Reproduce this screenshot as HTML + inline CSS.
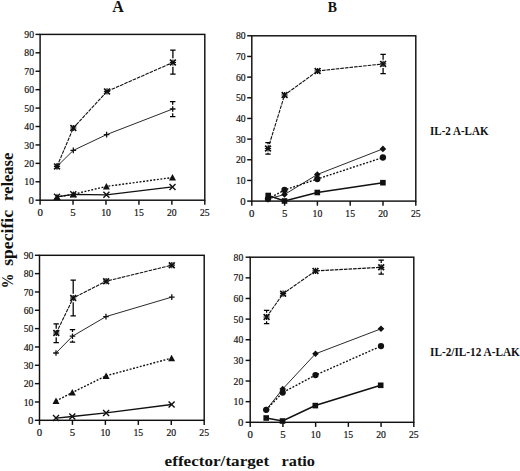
<!DOCTYPE html>
<html><head><meta charset="utf-8">
<style>
html,body{margin:0;padding:0;background:#fff;}
body{width:520px;height:471px;overflow:hidden;position:relative;}
svg{position:absolute;left:0;top:0;}
.tl{font-family:"Liberation Serif",serif;font-size:10.8px;fill:#111;stroke:#111;stroke-width:0.2px;}
.hd{font-family:"Liberation Serif",serif;font-weight:bold;fill:#111;}
</style></head><body>
<svg width="520" height="471" viewBox="0 0 520 471">
<text x="118" y="12" text-anchor="middle" class="hd" font-size="16">A</text>
<text x="332.3" y="12.1" text-anchor="middle" class="hd" font-size="13.8">B</text>
<text x="430" y="135.3" class="hd" font-size="11.6" textLength="58.5" lengthAdjust="spacingAndGlyphs">IL-2 A-LAK</text>
<text x="430" y="355.9" class="hd" font-size="11.6" textLength="89.8" lengthAdjust="spacingAndGlyphs">IL-2/IL-12 A-LAK</text>
<text x="164.6" y="465.6" class="hd" font-size="15.5" textLength="104.5" lengthAdjust="spacingAndGlyphs">effector/target</text>
<text x="281.5" y="465.6" class="hd" font-size="15.5" textLength="33.5" lengthAdjust="spacingAndGlyphs">ratio</text>
<g transform="translate(12.7,0) rotate(-90)">
<text x="-288.2" y="0" class="hd" font-size="17" textLength="14.6" lengthAdjust="spacingAndGlyphs">%</text>
<text x="-265.8" y="0" class="hd" font-size="16" textLength="55.8" lengthAdjust="spacingAndGlyphs">specific</text>
<text x="-201" y="0" class="hd" font-size="16" textLength="48.4" lengthAdjust="spacingAndGlyphs">release</text>
</g>
<rect x="40.1" y="34.4" width="164.7" height="165.8" fill="none" stroke="#111" stroke-width="1.45"/>
<line x1="35.5" y1="200.2" x2="40.1" y2="200.2" stroke="#111" stroke-width="1.45"/>
<text x="34" y="203.8" text-anchor="end" class="tl">0</text>
<line x1="35.5" y1="181.78" x2="40.1" y2="181.78" stroke="#111" stroke-width="1.45"/>
<text x="34" y="185.38" text-anchor="end" class="tl" textLength="9.7" lengthAdjust="spacingAndGlyphs">10</text>
<line x1="35.5" y1="163.36" x2="40.1" y2="163.36" stroke="#111" stroke-width="1.45"/>
<text x="34" y="166.96" text-anchor="end" class="tl" textLength="9.7" lengthAdjust="spacingAndGlyphs">20</text>
<line x1="35.5" y1="144.93" x2="40.1" y2="144.93" stroke="#111" stroke-width="1.45"/>
<text x="34" y="148.53" text-anchor="end" class="tl" textLength="9.7" lengthAdjust="spacingAndGlyphs">30</text>
<line x1="35.5" y1="126.51" x2="40.1" y2="126.51" stroke="#111" stroke-width="1.45"/>
<text x="34" y="130.11" text-anchor="end" class="tl" textLength="9.7" lengthAdjust="spacingAndGlyphs">40</text>
<line x1="35.5" y1="108.09" x2="40.1" y2="108.09" stroke="#111" stroke-width="1.45"/>
<text x="34" y="111.69" text-anchor="end" class="tl" textLength="9.7" lengthAdjust="spacingAndGlyphs">50</text>
<line x1="35.5" y1="89.67" x2="40.1" y2="89.67" stroke="#111" stroke-width="1.45"/>
<text x="34" y="93.27" text-anchor="end" class="tl" textLength="9.7" lengthAdjust="spacingAndGlyphs">60</text>
<line x1="35.5" y1="71.24" x2="40.1" y2="71.24" stroke="#111" stroke-width="1.45"/>
<text x="34" y="74.84" text-anchor="end" class="tl" textLength="9.7" lengthAdjust="spacingAndGlyphs">70</text>
<line x1="35.5" y1="52.82" x2="40.1" y2="52.82" stroke="#111" stroke-width="1.45"/>
<text x="34" y="56.42" text-anchor="end" class="tl" textLength="9.7" lengthAdjust="spacingAndGlyphs">80</text>
<line x1="35.5" y1="34.4" x2="40.1" y2="34.4" stroke="#111" stroke-width="1.45"/>
<text x="34" y="38" text-anchor="end" class="tl" textLength="9.7" lengthAdjust="spacingAndGlyphs">90</text>
<line x1="40.1" y1="200.2" x2="40.1" y2="204.8" stroke="#111" stroke-width="1.45"/>
<text x="40.1" y="216" text-anchor="middle" class="tl">0</text>
<line x1="73.04" y1="200.2" x2="73.04" y2="204.8" stroke="#111" stroke-width="1.45"/>
<text x="73.04" y="216" text-anchor="middle" class="tl">5</text>
<line x1="105.98" y1="200.2" x2="105.98" y2="204.8" stroke="#111" stroke-width="1.45"/>
<text x="105.98" y="216" text-anchor="middle" class="tl" textLength="9.7" lengthAdjust="spacingAndGlyphs">10</text>
<line x1="138.92" y1="200.2" x2="138.92" y2="204.8" stroke="#111" stroke-width="1.45"/>
<text x="138.92" y="216" text-anchor="middle" class="tl" textLength="9.7" lengthAdjust="spacingAndGlyphs">15</text>
<line x1="171.86" y1="200.2" x2="171.86" y2="204.8" stroke="#111" stroke-width="1.45"/>
<text x="171.86" y="216" text-anchor="middle" class="tl" textLength="9.7" lengthAdjust="spacingAndGlyphs">20</text>
<line x1="204.8" y1="200.2" x2="204.8" y2="204.8" stroke="#111" stroke-width="1.45"/>
<text x="204.8" y="216" text-anchor="middle" class="tl" textLength="9.7" lengthAdjust="spacingAndGlyphs">25</text>
<rect x="251.8" y="35.8" width="164" height="165.3" fill="none" stroke="#111" stroke-width="1.45"/>
<line x1="247.2" y1="201.1" x2="251.8" y2="201.1" stroke="#111" stroke-width="1.45"/>
<text x="245.7" y="204.7" text-anchor="end" class="tl">0</text>
<line x1="247.2" y1="180.44" x2="251.8" y2="180.44" stroke="#111" stroke-width="1.45"/>
<text x="245.7" y="184.04" text-anchor="end" class="tl" textLength="9.7" lengthAdjust="spacingAndGlyphs">10</text>
<line x1="247.2" y1="159.77" x2="251.8" y2="159.77" stroke="#111" stroke-width="1.45"/>
<text x="245.7" y="163.37" text-anchor="end" class="tl" textLength="9.7" lengthAdjust="spacingAndGlyphs">20</text>
<line x1="247.2" y1="139.11" x2="251.8" y2="139.11" stroke="#111" stroke-width="1.45"/>
<text x="245.7" y="142.71" text-anchor="end" class="tl" textLength="9.7" lengthAdjust="spacingAndGlyphs">30</text>
<line x1="247.2" y1="118.45" x2="251.8" y2="118.45" stroke="#111" stroke-width="1.45"/>
<text x="245.7" y="122.05" text-anchor="end" class="tl" textLength="9.7" lengthAdjust="spacingAndGlyphs">40</text>
<line x1="247.2" y1="97.79" x2="251.8" y2="97.79" stroke="#111" stroke-width="1.45"/>
<text x="245.7" y="101.39" text-anchor="end" class="tl" textLength="9.7" lengthAdjust="spacingAndGlyphs">50</text>
<line x1="247.2" y1="77.12" x2="251.8" y2="77.12" stroke="#111" stroke-width="1.45"/>
<text x="245.7" y="80.72" text-anchor="end" class="tl" textLength="9.7" lengthAdjust="spacingAndGlyphs">60</text>
<line x1="247.2" y1="56.46" x2="251.8" y2="56.46" stroke="#111" stroke-width="1.45"/>
<text x="245.7" y="60.06" text-anchor="end" class="tl" textLength="9.7" lengthAdjust="spacingAndGlyphs">70</text>
<line x1="247.2" y1="35.8" x2="251.8" y2="35.8" stroke="#111" stroke-width="1.45"/>
<text x="245.7" y="39.4" text-anchor="end" class="tl" textLength="9.7" lengthAdjust="spacingAndGlyphs">80</text>
<line x1="251.8" y1="201.1" x2="251.8" y2="205.7" stroke="#111" stroke-width="1.45"/>
<text x="251.8" y="216.9" text-anchor="middle" class="tl">0</text>
<line x1="284.6" y1="201.1" x2="284.6" y2="205.7" stroke="#111" stroke-width="1.45"/>
<text x="284.6" y="216.9" text-anchor="middle" class="tl">5</text>
<line x1="317.4" y1="201.1" x2="317.4" y2="205.7" stroke="#111" stroke-width="1.45"/>
<text x="317.4" y="216.9" text-anchor="middle" class="tl" textLength="9.7" lengthAdjust="spacingAndGlyphs">10</text>
<line x1="350.2" y1="201.1" x2="350.2" y2="205.7" stroke="#111" stroke-width="1.45"/>
<text x="350.2" y="216.9" text-anchor="middle" class="tl" textLength="9.7" lengthAdjust="spacingAndGlyphs">15</text>
<line x1="383" y1="201.1" x2="383" y2="205.7" stroke="#111" stroke-width="1.45"/>
<text x="383" y="216.9" text-anchor="middle" class="tl" textLength="9.7" lengthAdjust="spacingAndGlyphs">20</text>
<line x1="415.8" y1="201.1" x2="415.8" y2="205.7" stroke="#111" stroke-width="1.45"/>
<text x="415.8" y="216.9" text-anchor="middle" class="tl" textLength="9.7" lengthAdjust="spacingAndGlyphs">25</text>
<rect x="39.5" y="255.3" width="164.7" height="165" fill="none" stroke="#111" stroke-width="1.45"/>
<line x1="34.9" y1="420.3" x2="39.5" y2="420.3" stroke="#111" stroke-width="1.45"/>
<text x="33.4" y="423.9" text-anchor="end" class="tl">0</text>
<line x1="34.9" y1="401.97" x2="39.5" y2="401.97" stroke="#111" stroke-width="1.45"/>
<text x="33.4" y="405.57" text-anchor="end" class="tl" textLength="9.7" lengthAdjust="spacingAndGlyphs">10</text>
<line x1="34.9" y1="383.63" x2="39.5" y2="383.63" stroke="#111" stroke-width="1.45"/>
<text x="33.4" y="387.23" text-anchor="end" class="tl" textLength="9.7" lengthAdjust="spacingAndGlyphs">20</text>
<line x1="34.9" y1="365.3" x2="39.5" y2="365.3" stroke="#111" stroke-width="1.45"/>
<text x="33.4" y="368.9" text-anchor="end" class="tl" textLength="9.7" lengthAdjust="spacingAndGlyphs">30</text>
<line x1="34.9" y1="346.97" x2="39.5" y2="346.97" stroke="#111" stroke-width="1.45"/>
<text x="33.4" y="350.57" text-anchor="end" class="tl" textLength="9.7" lengthAdjust="spacingAndGlyphs">40</text>
<line x1="34.9" y1="328.63" x2="39.5" y2="328.63" stroke="#111" stroke-width="1.45"/>
<text x="33.4" y="332.23" text-anchor="end" class="tl" textLength="9.7" lengthAdjust="spacingAndGlyphs">50</text>
<line x1="34.9" y1="310.3" x2="39.5" y2="310.3" stroke="#111" stroke-width="1.45"/>
<text x="33.4" y="313.9" text-anchor="end" class="tl" textLength="9.7" lengthAdjust="spacingAndGlyphs">60</text>
<line x1="34.9" y1="291.97" x2="39.5" y2="291.97" stroke="#111" stroke-width="1.45"/>
<text x="33.4" y="295.57" text-anchor="end" class="tl" textLength="9.7" lengthAdjust="spacingAndGlyphs">70</text>
<line x1="34.9" y1="273.63" x2="39.5" y2="273.63" stroke="#111" stroke-width="1.45"/>
<text x="33.4" y="277.23" text-anchor="end" class="tl" textLength="9.7" lengthAdjust="spacingAndGlyphs">80</text>
<line x1="34.9" y1="255.3" x2="39.5" y2="255.3" stroke="#111" stroke-width="1.45"/>
<text x="33.4" y="258.9" text-anchor="end" class="tl" textLength="9.7" lengthAdjust="spacingAndGlyphs">90</text>
<line x1="39.5" y1="420.3" x2="39.5" y2="424.9" stroke="#111" stroke-width="1.45"/>
<text x="39.5" y="436.1" text-anchor="middle" class="tl">0</text>
<line x1="72.44" y1="420.3" x2="72.44" y2="424.9" stroke="#111" stroke-width="1.45"/>
<text x="72.44" y="436.1" text-anchor="middle" class="tl">5</text>
<line x1="105.38" y1="420.3" x2="105.38" y2="424.9" stroke="#111" stroke-width="1.45"/>
<text x="105.38" y="436.1" text-anchor="middle" class="tl" textLength="9.7" lengthAdjust="spacingAndGlyphs">10</text>
<line x1="138.32" y1="420.3" x2="138.32" y2="424.9" stroke="#111" stroke-width="1.45"/>
<text x="138.32" y="436.1" text-anchor="middle" class="tl" textLength="9.7" lengthAdjust="spacingAndGlyphs">15</text>
<line x1="171.26" y1="420.3" x2="171.26" y2="424.9" stroke="#111" stroke-width="1.45"/>
<text x="171.26" y="436.1" text-anchor="middle" class="tl" textLength="9.7" lengthAdjust="spacingAndGlyphs">20</text>
<line x1="204.2" y1="420.3" x2="204.2" y2="424.9" stroke="#111" stroke-width="1.45"/>
<text x="204.2" y="436.1" text-anchor="middle" class="tl" textLength="9.7" lengthAdjust="spacingAndGlyphs">25</text>
<rect x="250.2" y="257.2" width="163.6" height="165.1" fill="none" stroke="#111" stroke-width="1.45"/>
<line x1="245.6" y1="422.3" x2="250.2" y2="422.3" stroke="#111" stroke-width="1.45"/>
<text x="243.3" y="425.9" text-anchor="end" class="tl">0</text>
<line x1="245.6" y1="401.66" x2="250.2" y2="401.66" stroke="#111" stroke-width="1.45"/>
<text x="243.3" y="405.26" text-anchor="end" class="tl" textLength="9.7" lengthAdjust="spacingAndGlyphs">10</text>
<line x1="245.6" y1="381.02" x2="250.2" y2="381.02" stroke="#111" stroke-width="1.45"/>
<text x="243.3" y="384.62" text-anchor="end" class="tl" textLength="9.7" lengthAdjust="spacingAndGlyphs">20</text>
<line x1="245.6" y1="360.39" x2="250.2" y2="360.39" stroke="#111" stroke-width="1.45"/>
<text x="243.3" y="363.99" text-anchor="end" class="tl" textLength="9.7" lengthAdjust="spacingAndGlyphs">30</text>
<line x1="245.6" y1="339.75" x2="250.2" y2="339.75" stroke="#111" stroke-width="1.45"/>
<text x="243.3" y="343.35" text-anchor="end" class="tl" textLength="9.7" lengthAdjust="spacingAndGlyphs">40</text>
<line x1="245.6" y1="319.11" x2="250.2" y2="319.11" stroke="#111" stroke-width="1.45"/>
<text x="243.3" y="322.71" text-anchor="end" class="tl" textLength="9.7" lengthAdjust="spacingAndGlyphs">50</text>
<line x1="245.6" y1="298.48" x2="250.2" y2="298.48" stroke="#111" stroke-width="1.45"/>
<text x="243.3" y="302.08" text-anchor="end" class="tl" textLength="9.7" lengthAdjust="spacingAndGlyphs">60</text>
<line x1="245.6" y1="277.84" x2="250.2" y2="277.84" stroke="#111" stroke-width="1.45"/>
<text x="243.3" y="281.44" text-anchor="end" class="tl" textLength="9.7" lengthAdjust="spacingAndGlyphs">70</text>
<line x1="245.6" y1="257.2" x2="250.2" y2="257.2" stroke="#111" stroke-width="1.45"/>
<text x="243.3" y="260.8" text-anchor="end" class="tl" textLength="9.7" lengthAdjust="spacingAndGlyphs">80</text>
<line x1="250.2" y1="422.3" x2="250.2" y2="426.9" stroke="#111" stroke-width="1.45"/>
<text x="250.2" y="438.1" text-anchor="middle" class="tl">0</text>
<line x1="282.92" y1="422.3" x2="282.92" y2="426.9" stroke="#111" stroke-width="1.45"/>
<text x="282.92" y="438.1" text-anchor="middle" class="tl">5</text>
<line x1="315.64" y1="422.3" x2="315.64" y2="426.9" stroke="#111" stroke-width="1.45"/>
<text x="315.64" y="438.1" text-anchor="middle" class="tl" textLength="9.7" lengthAdjust="spacingAndGlyphs">10</text>
<line x1="348.36" y1="422.3" x2="348.36" y2="426.9" stroke="#111" stroke-width="1.45"/>
<text x="348.36" y="438.1" text-anchor="middle" class="tl" textLength="9.7" lengthAdjust="spacingAndGlyphs">15</text>
<line x1="381.08" y1="422.3" x2="381.08" y2="426.9" stroke="#111" stroke-width="1.45"/>
<text x="381.08" y="438.1" text-anchor="middle" class="tl" textLength="9.7" lengthAdjust="spacingAndGlyphs">20</text>
<line x1="413.8" y1="422.3" x2="413.8" y2="426.9" stroke="#111" stroke-width="1.45"/>
<text x="413.8" y="438.1" text-anchor="middle" class="tl" textLength="9.7" lengthAdjust="spacingAndGlyphs">25</text>
<path d="M172.9 50.2V58.3M172.9 66.7V74.2M170.2 50.2H175.6M170.2 74.2H175.6" stroke="#000" stroke-width="1.25" fill="none"/>
<path d="M172.7 101.5V104.8M172.7 113.2V116.5M170 101.5H175.4M170 116.5H175.4" stroke="#000" stroke-width="1.25" fill="none"/>
<path d="M57 166.4 L73.3 128 L107 91.4 L172.9 62.5" fill="none" stroke="#111" stroke-width="1.1" stroke-dasharray="3.6 1"/>
<path d="M57 166.4 L73.3 150.4 L106.6 134.6 L172.7 109" fill="none" stroke="#2a2a2a" stroke-width="1.0"/>
<path d="M57 196.8 L73.3 194.3 L106.4 186.4 L172.5 177.5" fill="none" stroke="#111" stroke-width="1.4" stroke-dasharray="1.9 1.6"/>
<path d="M57 196.8 L73.3 194.3 L106.4 194.8 L172.5 186.9" fill="none" stroke="#111" stroke-width="1.3"/>
<path d="M54.1 163.5L59.9 169.3M54.1 169.3L59.9 163.5" stroke="#111" stroke-width="1.7" fill="none"/><path d="M53.9 166.4H60.1M57 163.3V169.5" stroke="#111" stroke-width="1.2" fill="none"/>
<path d="M70.4 125.1L76.2 130.9M70.4 130.9L76.2 125.1" stroke="#111" stroke-width="1.7" fill="none"/><path d="M70.2 128H76.4M73.3 124.9V131.1" stroke="#111" stroke-width="1.2" fill="none"/>
<path d="M104.1 88.5L109.9 94.3M104.1 94.3L109.9 88.5" stroke="#111" stroke-width="1.7" fill="none"/><path d="M103.9 91.4H110.1M107 88.3V94.5" stroke="#111" stroke-width="1.2" fill="none"/>
<path d="M170 59.6L175.8 65.4M170 65.4L175.8 59.6" stroke="#111" stroke-width="1.7" fill="none"/><path d="M169.8 62.5H176M172.9 59.4V65.6" stroke="#111" stroke-width="1.2" fill="none"/>
<path d="M54.2 166.4H59.8M57 163.6V169.2" stroke="#111" stroke-width="1.3" fill="none"/>
<path d="M70.5 150.4H76.1M73.3 147.6V153.2" stroke="#111" stroke-width="1.3" fill="none"/>
<path d="M103.8 134.6H109.4M106.6 131.8V137.4" stroke="#111" stroke-width="1.3" fill="none"/>
<path d="M169.9 109H175.5M172.7 106.2V111.8" stroke="#111" stroke-width="1.3" fill="none"/>
<path d="M57 193.4L60.5 199.9L53.5 199.9Z" fill="#111"/>
<path d="M73.3 190.9L76.8 197.4L69.8 197.4Z" fill="#111"/>
<path d="M106.4 183L109.9 189.5L102.9 189.5Z" fill="#111"/>
<path d="M172.5 174.1L176 180.6L169 180.6Z" fill="#111"/>
<path d="M54 193.8L60 199.8M54 199.8L60 193.8" stroke="#111" stroke-width="1.4" fill="none"/>
<path d="M70.3 191.3L76.3 197.3M70.3 197.3L76.3 191.3" stroke="#111" stroke-width="1.4" fill="none"/>
<path d="M103.4 191.8L109.4 197.8M103.4 197.8L109.4 191.8" stroke="#111" stroke-width="1.4" fill="none"/>
<path d="M169.5 183.9L175.5 189.9M169.5 189.9L175.5 183.9" stroke="#111" stroke-width="1.4" fill="none"/>
<path d="M268 142.5V144.3M268 152.7V154M265.3 142.5H270.7M265.3 154H270.7" stroke="#000" stroke-width="1.25" fill="none"/>
<path d="M383.1 54.4V59.7M383.1 68.1V73.5M380.4 54.4H385.8M380.4 73.5H385.8" stroke="#000" stroke-width="1.25" fill="none"/>
<path d="M268 148.5 L284.6 95 L317.6 71 L383.1 63.9" fill="none" stroke="#111" stroke-width="1.1" stroke-dasharray="3.6 1"/>
<path d="M268 199 L284.5 194.5 L317.3 174.5 L382.9 148.9" fill="none" stroke="#2a2a2a" stroke-width="1.0"/>
<path d="M268 199 L284.5 190 L317.3 179 L382.9 157.5" fill="none" stroke="#111" stroke-width="1.4" stroke-dasharray="1.9 1.6"/>
<path d="M268.2 195.5 L284.5 201 L317.3 192.5 L382.9 182.7" fill="none" stroke="#111" stroke-width="1.6"/>
<path d="M265.1 145.6L270.9 151.4M265.1 151.4L270.9 145.6" stroke="#111" stroke-width="1.7" fill="none"/><path d="M264.9 148.5H271.1M268 145.4V151.6" stroke="#111" stroke-width="1.2" fill="none"/>
<path d="M281.7 92.1L287.5 97.9M281.7 97.9L287.5 92.1" stroke="#111" stroke-width="1.7" fill="none"/><path d="M281.5 95H287.7M284.6 91.9V98.1" stroke="#111" stroke-width="1.2" fill="none"/>
<path d="M314.7 68.1L320.5 73.9M314.7 73.9L320.5 68.1" stroke="#111" stroke-width="1.7" fill="none"/><path d="M314.5 71H320.7M317.6 67.9V74.1" stroke="#111" stroke-width="1.2" fill="none"/>
<path d="M380.2 61L386 66.8M380.2 66.8L386 61" stroke="#111" stroke-width="1.7" fill="none"/><path d="M380 63.9H386.2M383.1 60.8V67" stroke="#111" stroke-width="1.2" fill="none"/>
<path d="M268 195.7L271.3 199L268 202.3L264.7 199Z" fill="#111"/>
<path d="M284.5 191.2L287.8 194.5L284.5 197.8L281.2 194.5Z" fill="#111"/>
<path d="M317.3 171.2L320.6 174.5L317.3 177.8L314 174.5Z" fill="#111"/>
<path d="M382.9 145.6L386.2 148.9L382.9 152.2L379.6 148.9Z" fill="#111"/>
<circle cx="268" cy="199" r="3.15" fill="#111"/>
<circle cx="284.5" cy="190" r="3.15" fill="#111"/>
<circle cx="317.3" cy="179" r="3.15" fill="#111"/>
<circle cx="382.9" cy="157.5" r="3.15" fill="#111"/>
<rect x="265.4" y="192.7" width="5.6" height="5.6" fill="#111"/>
<rect x="281.7" y="198.2" width="5.6" height="5.6" fill="#111"/>
<rect x="314.5" y="189.7" width="5.6" height="5.6" fill="#111"/>
<rect x="380.1" y="179.9" width="5.6" height="5.6" fill="#111"/>
<path d="M56.2 323.8V328.8M56.2 337.2V342.5M53.5 323.8H58.9M53.5 342.5H58.9" stroke="#000" stroke-width="1.25" fill="none"/>
<path d="M73.2 280V293.8M73.2 302.2V315.9M70.5 280H75.9M70.5 315.9H75.9" stroke="#000" stroke-width="1.25" fill="none"/>
<path d="M72.5 329.5V332M72.5 340.4V342.2M69.8 329.5H75.2M69.8 342.2H75.2" stroke="#000" stroke-width="1.25" fill="none"/>
<path d="M56.3 333 L73.2 298 L106.1 281.2 L171.8 265.2" fill="none" stroke="#111" stroke-width="1.1" stroke-dasharray="3.6 1"/>
<path d="M56 353 L72.5 336.2 L106 316.6 L171.8 297.1" fill="none" stroke="#2a2a2a" stroke-width="1.0"/>
<path d="M56 401 L72.3 392.5 L106.1 375.8 L171.6 358.1" fill="none" stroke="#111" stroke-width="1.4" stroke-dasharray="1.9 1.6"/>
<path d="M56 418.1 L72.3 416.5 L106.1 412.9 L171.6 404.5" fill="none" stroke="#111" stroke-width="1.3"/>
<path d="M53.4 330.1L59.2 335.9M53.4 335.9L59.2 330.1" stroke="#111" stroke-width="1.7" fill="none"/><path d="M53.2 333H59.4M56.3 329.9V336.1" stroke="#111" stroke-width="1.2" fill="none"/>
<path d="M70.3 295.1L76.1 300.9M70.3 300.9L76.1 295.1" stroke="#111" stroke-width="1.7" fill="none"/><path d="M70.1 298H76.3M73.2 294.9V301.1" stroke="#111" stroke-width="1.2" fill="none"/>
<path d="M103.2 278.3L109 284.1M103.2 284.1L109 278.3" stroke="#111" stroke-width="1.7" fill="none"/><path d="M103 281.2H109.2M106.1 278.1V284.3" stroke="#111" stroke-width="1.2" fill="none"/>
<path d="M168.9 262.3L174.7 268.1M168.9 268.1L174.7 262.3" stroke="#111" stroke-width="1.7" fill="none"/><path d="M168.7 265.2H174.9M171.8 262.1V268.3" stroke="#111" stroke-width="1.2" fill="none"/>
<path d="M53.2 353H58.8M56 350.2V355.8" stroke="#111" stroke-width="1.3" fill="none"/>
<path d="M69.7 336.2H75.3M72.5 333.4V339" stroke="#111" stroke-width="1.3" fill="none"/>
<path d="M103.2 316.6H108.8M106 313.8V319.4" stroke="#111" stroke-width="1.3" fill="none"/>
<path d="M169 297.1H174.6M171.8 294.3V299.9" stroke="#111" stroke-width="1.3" fill="none"/>
<path d="M56 397.6L59.5 404.1L52.5 404.1Z" fill="#111"/>
<path d="M72.3 389.1L75.8 395.6L68.8 395.6Z" fill="#111"/>
<path d="M106.1 372.4L109.6 378.9L102.6 378.9Z" fill="#111"/>
<path d="M171.6 354.7L175.1 361.2L168.1 361.2Z" fill="#111"/>
<path d="M53 415.1L59 421.1M53 421.1L59 415.1" stroke="#111" stroke-width="1.4" fill="none"/>
<path d="M69.3 413.5L75.3 419.5M69.3 419.5L75.3 413.5" stroke="#111" stroke-width="1.4" fill="none"/>
<path d="M103.1 409.9L109.1 415.9M103.1 415.9L109.1 409.9" stroke="#111" stroke-width="1.4" fill="none"/>
<path d="M168.6 401.5L174.6 407.5M168.6 407.5L174.6 401.5" stroke="#111" stroke-width="1.4" fill="none"/>
<path d="M266.6 310.4V312.8M266.6 321.2V323.5M263.9 310.4H269.3M263.9 323.5H269.3" stroke="#000" stroke-width="1.25" fill="none"/>
<path d="M381.2 260.2V263.1M381.2 271.5V274.2M378.5 260.2H383.9M378.5 274.2H383.9" stroke="#000" stroke-width="1.25" fill="none"/>
<path d="M266.6 317 L283.1 293.7 L315.5 270.9 L381.2 267.3" fill="none" stroke="#111" stroke-width="1.1" stroke-dasharray="3.6 1"/>
<path d="M266.2 409.8 L282.7 389 L315.5 353.8 L381 328.8" fill="none" stroke="#2a2a2a" stroke-width="1.0"/>
<path d="M266.2 409.8 L282.7 392.5 L315.5 375.1 L381 346.1" fill="none" stroke="#111" stroke-width="1.4" stroke-dasharray="1.9 1.6"/>
<path d="M266.2 418 L282.5 421 L315.3 405.6 L380.7 385.3" fill="none" stroke="#111" stroke-width="1.6"/>
<path d="M263.7 314.1L269.5 319.9M263.7 319.9L269.5 314.1" stroke="#111" stroke-width="1.7" fill="none"/><path d="M263.5 317H269.7M266.6 313.9V320.1" stroke="#111" stroke-width="1.2" fill="none"/>
<path d="M280.2 290.8L286 296.6M280.2 296.6L286 290.8" stroke="#111" stroke-width="1.7" fill="none"/><path d="M280 293.7H286.2M283.1 290.6V296.8" stroke="#111" stroke-width="1.2" fill="none"/>
<path d="M312.6 268L318.4 273.8M312.6 273.8L318.4 268" stroke="#111" stroke-width="1.7" fill="none"/><path d="M312.4 270.9H318.6M315.5 267.8V274" stroke="#111" stroke-width="1.2" fill="none"/>
<path d="M378.3 264.4L384.1 270.2M378.3 270.2L384.1 264.4" stroke="#111" stroke-width="1.7" fill="none"/><path d="M378.1 267.3H384.3M381.2 264.2V270.4" stroke="#111" stroke-width="1.2" fill="none"/>
<path d="M266.2 406.5L269.5 409.8L266.2 413.1L262.9 409.8Z" fill="#111"/>
<path d="M282.7 385.7L286 389L282.7 392.3L279.4 389Z" fill="#111"/>
<path d="M315.5 350.5L318.8 353.8L315.5 357.1L312.2 353.8Z" fill="#111"/>
<path d="M381 325.5L384.3 328.8L381 332.1L377.7 328.8Z" fill="#111"/>
<circle cx="266.2" cy="409.8" r="3.15" fill="#111"/>
<circle cx="282.7" cy="392.5" r="3.15" fill="#111"/>
<circle cx="315.5" cy="375.1" r="3.15" fill="#111"/>
<circle cx="381" cy="346.1" r="3.15" fill="#111"/>
<rect x="263.4" y="415.2" width="5.6" height="5.6" fill="#111"/>
<rect x="279.7" y="418.2" width="5.6" height="5.6" fill="#111"/>
<rect x="312.5" y="402.8" width="5.6" height="5.6" fill="#111"/>
<rect x="377.9" y="382.5" width="5.6" height="5.6" fill="#111"/>
</svg>
</body></html>
